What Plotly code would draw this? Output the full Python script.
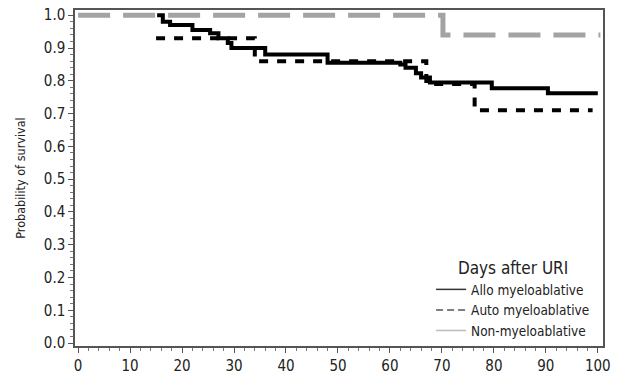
import plotly.graph_objects as go

# Data (Kaplan-Meier style step curves)
allo_days = [15.2, 16.3, 17.7, 22.0, 25.4, 27.0, 28.8, 29.5, 36.0, 48.0, 62.0, 63.0, 65.0, 66.0, 67.7, 79.6, 90.4, 100.0]
allo_surv = [1.0, 0.98, 0.97, 0.955, 0.945, 0.93, 0.915, 0.90, 0.88, 0.855, 0.85, 0.84, 0.823, 0.81, 0.795, 0.777, 0.762, 0.762]

auto_days = [15.0, 34.0, 67.0, 76.3, 99.0]
auto_surv = [0.93, 0.86, 0.79, 0.71, 0.71]

non_days = [0.0, 70.2, 100.5]
non_surv = [1.0, 0.94, 0.94]

x_ticks = [0, 10, 20, 30, 40, 50, 60, 70, 80, 90, 100]
y_ticks = [0.0, 0.1, 0.2, 0.3, 0.4, 0.5, 0.6, 0.7, 0.8, 0.9, 1.0]

legend_names = ["Allo myeloablative", "Auto myeloablative", "Non-myeloablative"]

FONT = "DejaVu Sans Condensed, Liberation Sans Narrow, Roboto, sans-serif"

fig = go.Figure()

# plotted curves
fig.add_trace(go.Scatter(x=allo_days, y=allo_surv, mode="lines", line_shape="hv",
                         line=dict(color="black", width=4), showlegend=False, legendgroup="a"))
fig.add_trace(go.Scatter(x=auto_days, y=auto_surv, mode="lines", line_shape="hv",
                         line=dict(color="black", width=4, dash="9px,9px"), showlegend=False, legendgroup="b"))
fig.add_trace(go.Scatter(x=non_days, y=non_surv, mode="lines", line_shape="hv",
                         line=dict(color="#a3a3a3", width=5, dash="32px,13px"), showlegend=False, legendgroup="c"))

# legend entries (styled as in the reference legend)
fig.add_trace(go.Scatter(x=[None], y=[None], mode="lines", name=legend_names[0],
                         line=dict(color="#333333", width=1.5), legendgroup="a"))
fig.add_trace(go.Scatter(x=[None], y=[None], mode="lines", name=legend_names[1],
                         line=dict(color="#555555", width=1.5, dash="7px,4px"), legendgroup="b"))
fig.add_trace(go.Scatter(x=[None], y=[None], mode="lines", name=legend_names[2],
                         line=dict(color="#bbbbbb", width=1.5), legendgroup="c"))

fig.update_layout(
    width=617, height=377,
    margin=dict(l=75, r=14, t=10, b=31),
    paper_bgcolor="white", plot_bgcolor="white",
    font=dict(family=FONT, size=14, color="#222"),
    legend=dict(
        x=0.985, y=0.0, xanchor="right", yanchor="bottom",
        bgcolor="rgba(255,255,255,0)",
        title=dict(text="Days after URI", side="top center", font=dict(size=17)),
        font=dict(size=13.5),
        tracegroupgap=0,
    ),
)

fig.update_xaxes(
    range=[-0.6, 101], tickvals=x_ticks, ticktext=[str(v) for v in x_ticks],
    showgrid=False, zeroline=False, automargin=False,
    showline=True, linecolor="#555", linewidth=1.5, mirror=True,
    ticks="outside", ticklen=5, tickcolor="#555",
    minor=dict(ticks="outside", dtick=2, ticklen=3, tickcolor="#777"),
    tickfont=dict(size=15),
)
fig.update_yaxes(
    range=[-0.009, 1.016], tickvals=y_ticks, ticktext=[f"{v:.1f}" for v in y_ticks],
    showgrid=False, zeroline=False, automargin=False,
    showline=True, linecolor="#555", linewidth=1.5, mirror=True,
    ticks="outside", ticklen=5, tickcolor="#555",
    minor=dict(ticks="outside", dtick=0.02, ticklen=3, tickcolor="#777"),
    tickfont=dict(size=15),
    title=dict(text="Probability of survival", font=dict(size=12.5)),
)

fig.write_html("out.html", config={"displayModeBar": False},
               post_script="document.body.style.margin='0';document.body.style.overflow='hidden';")
